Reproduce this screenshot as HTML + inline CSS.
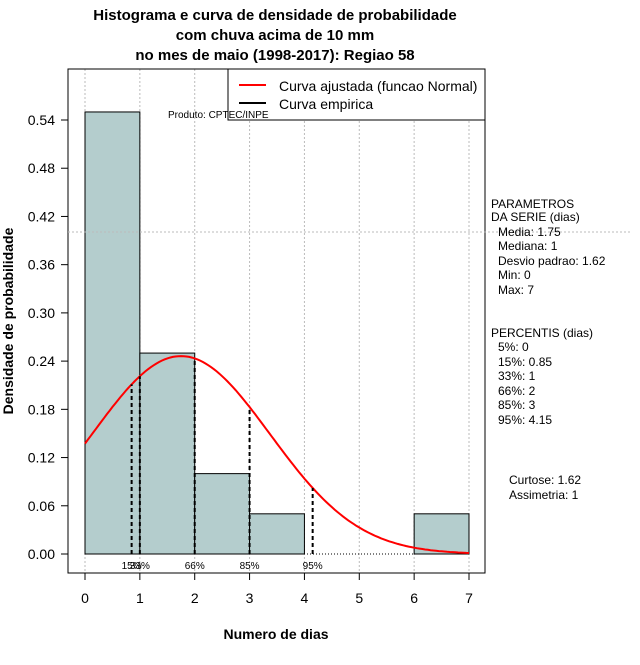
<!DOCTYPE html>
<html><head><meta charset="utf-8">
<style>
body{margin:0;background:#fff;}
svg text{font-family:"Liberation Sans",sans-serif;}
</style></head>
<body>
<svg id="chart" width="640" height="660" xmlns="http://www.w3.org/2000/svg">
<g font-weight="bold" font-size="15" text-anchor="middle">
<text x="275" y="20">Histograma e curva de densidade de probabilidade</text>
<text x="275" y="40">com chuva acima de 10 mm</text>
<text x="275" y="60">no mes de maio (1998-2017): Regiao 58</text>
</g>
<g id="grid"></g>
<g id="bars"></g>
<g id="marks"></g>
<rect x="68" y="69" width="417" height="504" fill="none" stroke="#000"/>
<line x1="68" y1="232" x2="630" y2="232" stroke="#bbb" stroke-dasharray="2,2"/>
<g id="xaxis"></g>
<g id="yaxis"></g>
<text x="276" y="639" font-size="14" font-weight="bold" text-anchor="middle">Numero de dias</text>
<text transform="translate(13,321) rotate(-90)" font-size="14" font-weight="bold" text-anchor="middle">Densidade de probabilidade</text>
<g>
<rect x="228" y="69" width="257" height="51" fill="#fff" stroke="#000"/>
<line x1="239" y1="85" x2="266" y2="85" stroke="red" stroke-width="2"/>
<text x="279" y="91" font-size="14">Curva ajustada (funcao Normal)</text>
<line x1="239" y1="103" x2="266" y2="103" stroke="#000" stroke-width="2"/>
<text x="279" y="109" font-size="14">Curva empirica</text>
</g>
<text x="168" y="118" font-size="10">Produto: CPTEC/INPE</text>
<g font-size="12">
<text x="491" y="208">PARAMETROS</text>
<text x="491" y="221">DA SERIE (dias)</text>
<text x="498" y="236">Media: 1.75</text>
<text x="498" y="250">Mediana: 1</text>
<text x="498" y="265">Desvio padrao: 1.62</text>
<text x="498" y="279">Min: 0</text>
<text x="498" y="294">Max: 7</text>
<text x="491" y="337">PERCENTIS (dias)</text>
<text x="498" y="351">5%: 0</text>
<text x="498" y="366">15%: 0.85</text>
<text x="498" y="380">33%: 1</text>
<text x="498" y="395">66%: 2</text>
<text x="498" y="409">85%: 3</text>
<text x="498" y="424">95%: 4.15</text>
<text x="509" y="484">Curtose: 1.62</text>
<text x="509" y="499">Assimetria: 1</text>
</g>
</svg>
<script>
const binStarts=[0,1,2,3,4,5,6];
const densities=[0.55,0.25,0.10,0.05,0,0,0.05];
const xTicks=[0,1,2,3,4,5,6,7];
const yTicks=[0.00,0.06,0.12,0.18,0.24,0.30,0.36,0.42,0.48,0.54];
const mean=1.75, sd=1.62;
const pctValues=[0.85,1,2,3,4.15];
const pctLabels=["15%","33%","66%","85%","95%"];
const NS="http://www.w3.org/2000/svg";
const X=v=>85+v*54.857, Y=v=>554-v*803.7;
function mk(p,t,a){const e=document.createElementNS(NS,t);for(const k in a)e.setAttribute(k,a[k]);document.getElementById(p).appendChild(e);return e;}
const pdf=x=>Math.exp(-0.5*((x-mean)/sd)**2)/(sd*Math.sqrt(2*Math.PI));
xTicks.forEach(t=>{
 let g=mk('grid','line',{x1:X(t),x2:X(t),y1:69,y2:573,stroke:'#bbb','stroke-dasharray':'2,2'});
 
 let l=mk('xaxis','line',{x1:X(t),x2:X(t),y1:573,y2:580,stroke:'#000'});
 
 let s=mk('xaxis','text',{x:X(t),y:603,'font-size':14,'text-anchor':'middle'});s.textContent=t;
 
});
yTicks.forEach(t=>{
 let l=mk('yaxis','line',{x1:61,x2:68,y1:Y(t),y2:Y(t),stroke:'#000'});
 
 let s=mk('yaxis','text',{x:55,y:Y(t)+5,'font-size':14,'text-anchor':'end'});s.textContent=t.toFixed(2);
 
});
binStarts.forEach((b,i)=>{
 if(densities[i]<=0)return;
 let r=mk('bars','rect',{x:X(b),y:Y(densities[i]),width:X(b+1)-X(b),height:Y(0)-Y(densities[i]),fill:'#b4cdcd',stroke:'#000'});
 
});
let bl=mk('marks','line',{x1:X(0),x2:X(7),y1:Y(0),y2:Y(0),stroke:'#000','stroke-dasharray':'1,2'});

let pts=[];for(let i=0;i<=140;i++){const x=i*0.05;pts.push(X(x).toFixed(1)+','+Y(pdf(x)).toFixed(1));}
let c=mk('marks','polyline',{points:pts.join(' '),fill:'none',stroke:'red','stroke-width':2});

pctValues.forEach((p,i)=>{
 let l=mk('marks','line',{x1:X(p),x2:X(p),y1:Y(0),y2:Y(pdf(p)),stroke:'#000','stroke-width':2,'stroke-dasharray':'4,3'});
 
 let s=mk('marks','text',{x:X(p),y:569,'font-size':10,'text-anchor':'middle'});s.textContent=pctLabels[i];
 
});
</script>
</body></html>
